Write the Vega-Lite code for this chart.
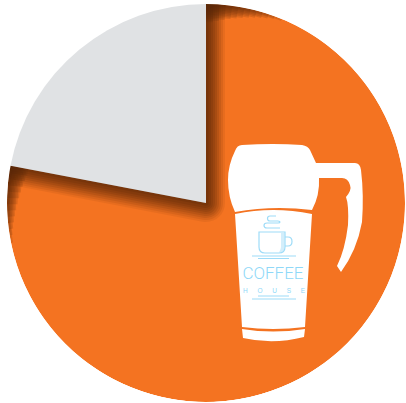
{
  "$schema": "https://vega.github.io/schema/vega-lite/v6.json",
  "width": 398,
  "height": 398,
  "padding": {"left": 7, "top": 4, "right": 1, "bottom": 1},
  "autosize": {"type": "none"},
  "background": "white",
  "view": {"stroke": null},
  "datasets": {
    "shares": [
      {"segment": "Coffee house", "start": 0, "end": 78},
      {"segment": "Other", "start": 78, "end": 100}
    ],
    "edgeFade": [
      {"step": 1, "start": 0, "end": 0.6}, {"step": 1, "start": 77.4, "end": 78},
      {"step": 2, "start": 0, "end": 1.1}, {"step": 2, "start": 76.9, "end": 78},
      {"step": 3, "start": 0, "end": 1.6}, {"step": 3, "start": 76.4, "end": 78},
      {"step": 4, "start": 0, "end": 2.1}, {"step": 4, "start": 75.9, "end": 78},
      {"step": 5, "start": 0, "end": 2.6}, {"step": 5, "start": 75.4, "end": 78},
      {"step": 6, "start": 0, "end": 3.1}, {"step": 6, "start": 74.9, "end": 78},
      {"step": 7, "start": 0, "end": 3.6}, {"step": 7, "start": 74.4, "end": 78},
      {"step": 8, "start": 0, "end": 4.1}, {"step": 8, "start": 73.9, "end": 78},
      {"step": 9, "start": 0, "end": 4.6}, {"step": 9, "start": 73.4, "end": 78},
      {"step": 10, "start": 0, "end": 5.1}, {"step": 10, "start": 72.9, "end": 78},
      {"step": 11, "start": 0, "end": 5.6}, {"step": 11, "start": 72.4, "end": 78},
      {"step": 12, "start": 0, "end": 6.2}, {"step": 12, "start": 71.8, "end": 78}
    ],
    "outside": [
      {"part": "ring", "start": 0, "end": 60},
      {"part": "ring", "start": 40, "end": 100},
      {"part": "grey rim", "start": 78, "end": 100}
    ],
    "icon": [{"name": "travel mug"}]
  },
  "data": {"name": "shares"},
  "encoding": {
    "theta": {"field": "start", "type": "quantitative", "scale": {"domain": [0, 100], "range": [0, 6.283185307]}},
    "theta2": {"field": "end"}
  },
  "layer": [
    {"transform": [{"filter": "datum.segment === 'Coffee house'"}], "mark": {"type": "arc", "radius": 199, "fill": "#f47321"}},

    {"data": {"name": "edgeFade"}, "transform": [{"filter": "datum.step === 1"}], "mark": {"type": "arc", "radius": 199, "radius2": 181, "fill": "#5a2808", "opacity": 0.16}},
    {"data": {"name": "edgeFade"}, "transform": [{"filter": "datum.step === 2"}], "mark": {"type": "arc", "radius": 199, "radius2": 182.5, "fill": "#5a2808", "opacity": 0.16}},
    {"data": {"name": "edgeFade"}, "transform": [{"filter": "datum.step === 3"}], "mark": {"type": "arc", "radius": 199, "radius2": 184, "fill": "#5a2808", "opacity": 0.16}},
    {"data": {"name": "edgeFade"}, "transform": [{"filter": "datum.step === 4"}], "mark": {"type": "arc", "radius": 199, "radius2": 185.5, "fill": "#5a2808", "opacity": 0.16}},
    {"data": {"name": "edgeFade"}, "transform": [{"filter": "datum.step === 5"}], "mark": {"type": "arc", "radius": 199, "radius2": 187, "fill": "#5a2808", "opacity": 0.16}},
    {"data": {"name": "edgeFade"}, "transform": [{"filter": "datum.step === 6"}], "mark": {"type": "arc", "radius": 199, "radius2": 188.5, "fill": "#5a2808", "opacity": 0.16}},
    {"data": {"name": "edgeFade"}, "transform": [{"filter": "datum.step === 7"}], "mark": {"type": "arc", "radius": 199, "radius2": 190, "fill": "#5a2808", "opacity": 0.16}},
    {"data": {"name": "edgeFade"}, "transform": [{"filter": "datum.step === 8"}], "mark": {"type": "arc", "radius": 199, "radius2": 191.5, "fill": "#5a2808", "opacity": 0.16}},
    {"data": {"name": "edgeFade"}, "transform": [{"filter": "datum.step === 9"}], "mark": {"type": "arc", "radius": 199, "radius2": 193, "fill": "#5a2808", "opacity": 0.16}},
    {"data": {"name": "edgeFade"}, "transform": [{"filter": "datum.step === 10"}], "mark": {"type": "arc", "radius": 199, "radius2": 194.5, "fill": "#5a2808", "opacity": 0.16}},
    {"data": {"name": "edgeFade"}, "transform": [{"filter": "datum.step === 11"}], "mark": {"type": "arc", "radius": 199, "radius2": 196, "fill": "#5a2808", "opacity": 0.16}},
    {"data": {"name": "edgeFade"}, "transform": [{"filter": "datum.step === 12"}], "mark": {"type": "arc", "radius": 199, "radius2": 197, "fill": "#5a2808", "opacity": 0.16}},

    {"transform": [{"filter": "datum.segment === 'Other'"}], "mark": {"type": "arc", "radius": 199, "fill": "#5a2808", "stroke": "#5a2808", "strokeWidth": 38, "strokeJoin": "round", "opacity": 0.08}},
    {"transform": [{"filter": "datum.segment === 'Other'"}], "mark": {"type": "arc", "radius": 199, "fill": "#5a2808", "stroke": "#5a2808", "strokeWidth": 34, "strokeJoin": "round", "opacity": 0.1}},
    {"transform": [{"filter": "datum.segment === 'Other'"}], "mark": {"type": "arc", "radius": 199, "fill": "#5a2808", "stroke": "#5a2808", "strokeWidth": 30, "strokeJoin": "round", "opacity": 0.12}},
    {"transform": [{"filter": "datum.segment === 'Other'"}], "mark": {"type": "arc", "radius": 199, "fill": "#5a2808", "stroke": "#5a2808", "strokeWidth": 26, "strokeJoin": "round", "opacity": 0.14}},
    {"transform": [{"filter": "datum.segment === 'Other'"}], "mark": {"type": "arc", "radius": 199, "fill": "#5a2808", "stroke": "#5a2808", "strokeWidth": 22, "strokeJoin": "round", "opacity": 0.16}},
    {"transform": [{"filter": "datum.segment === 'Other'"}], "mark": {"type": "arc", "radius": 199, "fill": "#5a2808", "stroke": "#5a2808", "strokeWidth": 18, "strokeJoin": "round", "opacity": 0.17}},
    {"transform": [{"filter": "datum.segment === 'Other'"}], "mark": {"type": "arc", "radius": 199, "fill": "#5a2808", "stroke": "#5a2808", "strokeWidth": 14, "strokeJoin": "round", "opacity": 0.18}},
    {"transform": [{"filter": "datum.segment === 'Other'"}], "mark": {"type": "arc", "radius": 199, "fill": "#5a2808", "stroke": "#5a2808", "strokeWidth": 10, "strokeJoin": "round", "opacity": 0.2}},
    {"transform": [{"filter": "datum.segment === 'Other'"}], "mark": {"type": "arc", "radius": 199, "fill": "#5a2808", "stroke": "#5a2808", "strokeWidth": 5, "strokeJoin": "round", "opacity": 0.25}},

    {"data": {"name": "outside"}, "transform": [{"filter": "datum.part === 'ring'"}], "mark": {"type": "arc", "radius": 240, "radius2": 199, "fill": "white"}},
    {"data": {"name": "outside"}, "transform": [{"filter": "datum.part === 'grey rim'"}], "mark": {"type": "arc", "radius": 240, "radius2": 197, "fill": "white"}},

    {"transform": [{"filter": "datum.segment === 'Other'"}], "mark": {"type": "arc", "radius": 199, "fill": "#e0e2e4"}},

    {"data": {"name": "icon"}, "encoding": {"theta": null, "theta2": null}, "mark": {"type": "point", "filled": true, "opacity": 1, "size": 4, "fill": "white", "strokeWidth": 0,
      "shape": "M36,-58 Q67,-60 96,-58 Q102,-57 104,-53 L110,-40 L149,-40 Q154,-40 155,-33 Q158,-8 156,19 Q151,47 135,69 L131,63 Q139,47 142,22 Q143,2 140,-6 Q146,-13 144,-18 Q142,-25 136,-25 L113,-25 Q114,-8 106,7 Q67,2 29,9 Q22,-6 22,-23 Q22,-38 29,-52 Q31,-58 36,-58 Z M29,11 Q67,3 106,11 L99,124 Q67,128 36,124 Z M36,126 Q67,131 99,126 L98,134 Q67,142 37,135 Z"}},

    {"data": {"name": "icon"}, "encoding": {"theta": null, "theta2": null}, "mark": {"type": "point", "filled": true, "opacity": 1, "size": 4, "fill": "#d3eefb", "strokeWidth": 0,
      "shape": "M75,30 H78.5 V44 Q78.5,49 73,49.5 Q75,46 75,44 Z"}},

    {"data": {"name": "icon"}, "encoding": {"theta": null, "theta2": null}, "mark": {"type": "point", "filled": false, "opacity": 1, "size": 4, "fill": null, "stroke": "#9edcf8", "strokeWidth": 1.2,
      "shape": "M70,13 H64 Q61.5,13 61.5,15.5 Q61.5,18 64,18 H72 Q74,18 74,19 Q74,20 72,20 H61 Q58,20 58,22.5 Q58,25 61,25 H74 M53,29 H79 V44 Q79,50 73,50 H59 Q53,50 53,44 Z M79,34 H82 Q86,34 86,38.5 Q86,43 82,43 H79 M46,53 H90 M52,55.5 H83 M52,93 H83 M46,96 H90"}},

    {"data": {"name": "icon"}, "encoding": {"theta": null, "theta2": null}, "mark": {"type": "text", "text": "COFFEE", "font": "Roboto", "fontSize": 17, "fontWeight": 300, "fill": "#8fd8f8", "align": "center", "baseline": "middle", "dx": 67, "dy": 71}},
    {"data": {"name": "icon"}, "encoding": {"theta": null, "theta2": null}, "mark": {"type": "text", "text": "H\u2003\u2002O\u2003\u2002U\u2003\u2002S\u2003\u2002E", "font": "Liberation Sans", "fontSize": 6.5, "fill": "#8fd8f8", "align": "center", "baseline": "middle", "dx": 68, "dy": 87.5}}
  ]
}
